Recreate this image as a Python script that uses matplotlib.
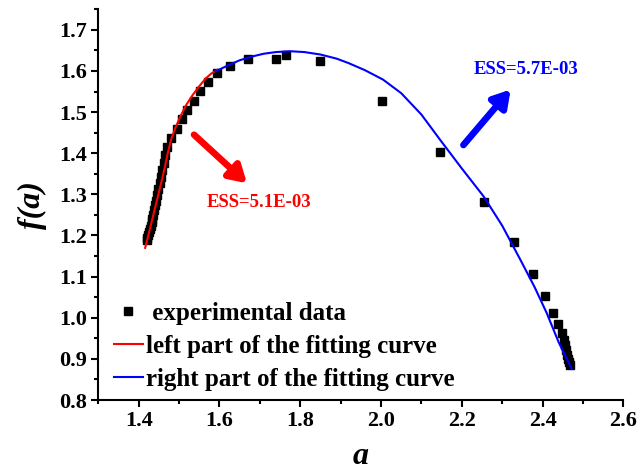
import matplotlib
matplotlib.use('Agg')
import matplotlib.pyplot as plt
from matplotlib.ticker import MultipleLocator

plt.rcParams['font.family'] = 'Liberation Serif'
plt.rcParams['font.weight'] = 'bold'

# experimental points
exp_a = [1.421, 1.420, 1.422, 1.425, 1.429, 1.430, 1.432, 1.434, 1.436, 1.438,
         1.440, 1.443, 1.446, 1.449, 1.452, 1.455, 1.458, 1.462, 1.466, 1.470,
         1.481, 1.495, 1.506, 1.520, 1.537, 1.553, 1.572, 1.595, 1.626, 1.671,
         1.740, 1.765, 1.850, 2.003, 2.147, 2.256, 2.329, 2.376, 2.406, 2.426,
         2.439, 2.447, 2.452, 2.455, 2.458, 2.461, 2.463, 2.465, 2.467]
exp_f = [1.190, 1.195, 1.201, 1.208, 1.215, 1.223, 1.232, 1.241, 1.251, 1.262,
         1.273, 1.285, 1.298, 1.312, 1.327, 1.343, 1.360, 1.377, 1.396, 1.416,
         1.438, 1.460, 1.484, 1.506, 1.528, 1.552, 1.573, 1.595, 1.613, 1.629,
         1.630, 1.638, 1.625, 1.528, 1.403, 1.282, 1.183, 1.107, 1.053, 1.012,
         0.985, 0.962, 0.945, 0.933, 0.921, 0.910, 0.900, 0.892, 0.885]

# left part of the fitting curve
left_a = [1.416, 1.425, 1.435, 1.445, 1.455, 1.464, 1.472, 1.480, 1.491, 1.504,
          1.518, 1.534, 1.550, 1.566, 1.580, 1.595]
left_f = [1.170, 1.205, 1.245, 1.285, 1.325, 1.363, 1.400, 1.433, 1.462, 1.491,
          1.518, 1.542, 1.563, 1.582, 1.594, 1.603]

# right part of the fitting curve
right_a = [1.590, 1.620, 1.650, 1.680, 1.710, 1.740, 1.775, 1.810, 1.850, 1.890,
           1.920, 1.960, 2.005, 2.050, 2.100, 2.146, 2.200, 2.254, 2.300, 2.345,
           2.380, 2.410, 2.440, 2.472]
right_f = [1.599, 1.613, 1.626, 1.635, 1.642, 1.646, 1.648, 1.646, 1.640, 1.630,
           1.619, 1.602, 1.579, 1.546, 1.494, 1.433, 1.363, 1.295, 1.224, 1.141,
           1.075, 1.012, 0.940, 0.876]

fig = plt.figure(figsize=(6.4, 4.71), dpi=100)
ax = fig.add_axes([0.1536, 0.1507, 0.8204, 0.8296])

ax.plot(exp_a, exp_f, 's', color='black', ms=6.3, label=' experimental data', zorder=2)
ax.plot(left_a, left_f, color='red', lw=1.5, label='left part of the fitting curve', zorder=3)
ax.plot(right_a, right_f, color='blue', lw=1.5, label='right part of the fitting curve', zorder=3)

# arrows + ESS labels
ax.annotate('', xy=(1.668, 1.327), xytext=(1.537, 1.445),
            arrowprops=dict(arrowstyle='-|>,head_length=1.0,head_width=0.6',
                            color='red', lw=4.8, shrinkA=0, shrinkB=0))
ax.text(1.699, 1.280, 'ESS=5.1E-03', color='red', fontsize=13.5,
        fontweight='bold', ha='center', va='center')
ax.annotate('', xy=(2.321, 1.555), xytext=(2.204, 1.420),
            arrowprops=dict(arrowstyle='-|>,head_length=1.0,head_width=0.6',
                            color='blue', lw=4.8, shrinkA=0, shrinkB=0))
ax.text(2.358, 1.604, 'ESS=5.7E-03', color='blue', fontsize=13.5,
        fontweight='bold', ha='center', va='center')

ax.set_xlim(1.3, 2.6)
ax.set_ylim(0.8, 1.75)
ax.xaxis.set_major_locator(MultipleLocator(0.2))
ax.xaxis.set_minor_locator(MultipleLocator(0.1))
ax.yaxis.set_major_locator(MultipleLocator(0.1))
ax.yaxis.set_minor_locator(MultipleLocator(0.05))
ax.set_xticks([1.4, 1.6, 1.8, 2.0, 2.2, 2.4, 2.6])
ax.set_yticks([0.8, 0.9, 1.0, 1.1, 1.2, 1.3, 1.4, 1.5, 1.6, 1.7])
ax.tick_params(which='major', direction='out', length=5, width=1.5, labelsize=16, pad=3)
ax.tick_params(which='minor', direction='out', length=3, width=1.5)
for side in ['top', 'right']:
    ax.spines[side].set_visible(False)
for side in ['left', 'bottom']:
    ax.spines[side].set_linewidth(1.5)

ax.set_xlabel('a', fontsize=23, fontstyle='italic', fontweight='bold', labelpad=8)
ax.set_ylabel('f(a)', fontsize=23, fontstyle='italic', fontweight='bold', labelpad=9)

ax.legend(loc='lower left', bbox_to_anchor=(0.02, 0.01), frameon=False,
          fontsize=18, handlelength=1.15, handletextpad=0.12, labelspacing=0.4,
          borderaxespad=0, borderpad=0.2)

fig.savefig('out.png', dpi=100)
